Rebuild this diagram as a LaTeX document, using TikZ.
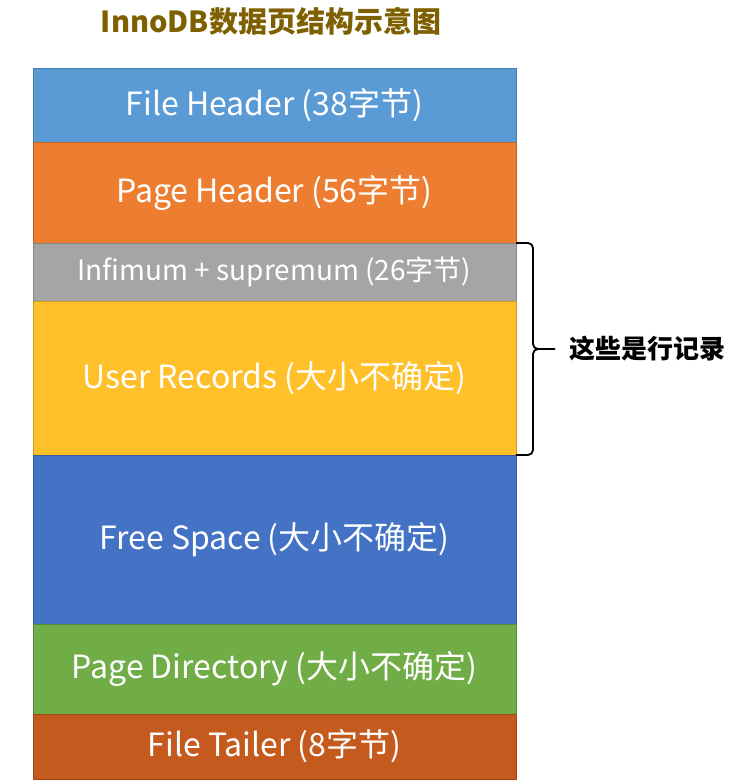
\documentclass[tikz,border=0pt]{standalone}
\usepackage{fontspec}
\setmainfont{Noto Sans CJK SC}
\usetikzlibrary{positioning, calc}
\definecolor{cfilehead}{HTML}{5B9BD5}
\definecolor{cpagehead}{HTML}{ED7D31}
\definecolor{cinfsup}{HTML}{A5A5A5}
\definecolor{cuserrec}{HTML}{FFC02A}
\definecolor{cfreesp}{HTML}{4472C4}
\definecolor{cpagedir}{HTML}{70AD47}
\definecolor{cfiletail}{HTML}{C55A1E}
\definecolor{ctitle}{HTML}{7F6000}
\tikzset{
  every picture/.style={x=1pt, y=-1pt},
  layer/.style={draw=#1!80!black, fill=#1, line width=0.8pt, text=white, minimum width=483pt,
    inner sep=0pt, outer sep=0pt, font=\fontsize{32}{36}\selectfont},
  title/.style={font=\fontsize{29}{32}\selectfont\bfseries, text=ctitle},
  note/.style={font=\fontsize{26}{30}\selectfont\bfseries, text=black},
  bracket/.style={draw=black, line width=1.8pt, rounded corners=5pt},
}

\begin{document}
\begin{tikzpicture}
  \useasboundingbox (0,0) rectangle (736,784);
  \node[title] (t) at (271,21) {InnoDB数据页结构示意图};

  \node[layer=cfilehead, minimum height=74pt, anchor=north] (fh) at (274.5,68) {File Header (38字节)};
  \node[layer=cpagehead, minimum height=101pt, below=0pt of fh] (ph) {Page Header (56字节)};
  \node[layer=cinfsup, minimum height=58pt, below=0pt of ph, font=\fontsize{28}{32}\selectfont] (is) {Infimum + supremum (26字节)};
  \node[layer=cuserrec, minimum height=154pt, below=0pt of is] (ur) {User Records (大小不确定)};
  \node[layer=cfreesp, minimum height=169pt, below=0pt of ur] (fs) {Free Space (大小不确定)};
  \node[layer=cpagedir, minimum height=90pt, below=0pt of fs] (pd) {Page Directory (大小不确定)};
  \node[layer=cfiletail, minimum height=65pt, below=0pt of pd] (ft) {File Tailer (8字节)};

  % bracket over the row records
  \coordinate (tip) at ($(is.north east)!0.5!(ur.south east)+(39,0)$);
  \draw[bracket] (is.north east) -- ++(17,0) |- (tip);
  \draw[bracket] (ur.south east) -- ++(17,0) |- (tip);
  \node[note, anchor=west] (rows) at ([xshift=11pt]tip) {这些是行记录};
\end{tikzpicture}
\end{document}
